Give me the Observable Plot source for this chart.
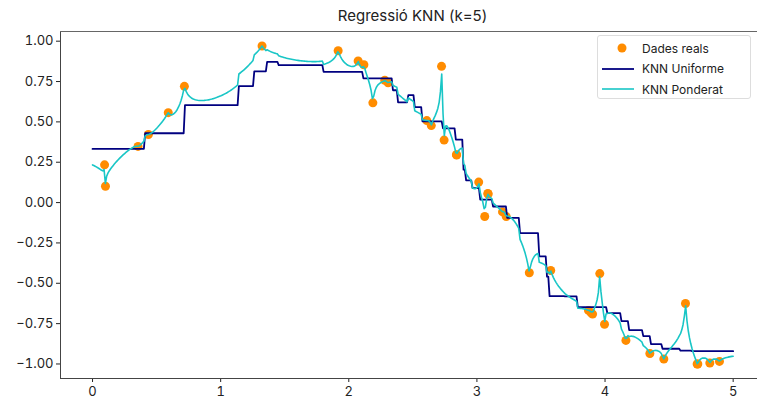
<!DOCTYPE html>
<html>
<head>
<meta charset="utf-8">
<script src="https://cdn.jsdelivr.net/npm/d3@7"></script>
<script src="https://cdn.jsdelivr.net/npm/@observablehq/plot@0.6"></script>
<style>
  html, body { margin: 0; padding: 0; background: #fff; overflow: hidden; }
  #wrap { position: relative; width: 757px; height: 403px; font-family: Inter, "Open Sans", sans-serif; color: #222; }
  #title { position: absolute; top: 6px; left: 60px; width: 705px; text-align: center; font-size: 15px; }
  #legend { position: absolute; left: 597px; top: 35px; width: 154px; height: 64px; background: rgba(255,255,255,0.85);
            border: 1px solid #ddd; border-radius: 3px; box-sizing: border-box; font-size: 12px; }
  .row { position: absolute; left: 0; height: 20px; display: flex; align-items: center; }
  .row svg { width: 44px; height: 20px; }
</style>
</head>
<body>
<div id="wrap">
  <div id="title">Regressió KNN (k=5)</div>
  <div id="chart"></div>
  <div id="legend"></div>
</div>
<script>
const dataX = [0.094, 0.101, 0.355, 0.436, 0.591, 0.717, 1.323, 1.917, 2.073, 2.118,
               2.188, 2.281, 2.307, 2.609, 2.644, 2.724, 2.744, 2.840, 2.842, 3.014,
               3.061, 3.085, 3.088, 3.200, 3.229, 3.409, 3.576, 3.871, 3.891, 3.903,
               3.959, 3.996, 4.163, 4.350, 4.459, 4.628, 4.719, 4.724, 4.818, 4.893];
const dataY = [0.234, 0.101, 0.348, 0.422, 0.557, 0.720, 0.970, 0.941, 0.877, 0.854,
               0.618, 0.758, 0.742, 0.508, 0.477, 0.844, 0.387, 0.297, 0.295, 0.127,
               -0.086, 0.056, 0.053, -0.058, -0.087, -0.435, -0.421, -0.668, -0.683, -0.691,
               -0.440, -0.754, -0.854, -0.935, -0.969, -0.625, -1.000, -1.000, -0.994, -0.984];
const K = 5;
const xTicks = [0, 1, 2, 3, 4, 5];
const yTicks = [-1, -0.75, -0.5, -0.25, 0, 0.25, 0.5, 0.75, 1];
const seriesNames = ["Dades reals", "KNN Uniforme", "KNN Ponderat"];
const colors = {points: "#ff8c00", uniform: "#000080", weighted: "#19c6c6"};

const points = dataX.map((x, i) => ({x, y: dataY[i]}));

// KNN regression predictions over a prediction grid (0..5, 500 samples)
const grid = d3.range(500).map(i => 5 * i / 499);
function knn(t) {
  const nb = points.map(p => ({d: Math.abs(p.x - t), y: p.y}))
    .sort((a, b) => a.d - b.d).slice(0, K);
  const uni = d3.mean(nb, n => n.y);
  let w;
  const exact = nb.filter(n => n.d === 0);
  if (exact.length) w = d3.mean(exact, n => n.y);
  else {
    const sw = d3.sum(nb, n => 1 / n.d);
    w = d3.sum(nb, n => n.y / n.d) / sw;
  }
  return {t, uni, w};
}
const pred = grid.map(knn);

const xDom = [-0.25, 5.19];
const yDom = [-1.09, 1.06];

const chart = Plot.plot({
  width: 757, height: 403,
  marginLeft: 60, marginRight: 0, marginTop: 31, marginBottom: 25,
  style: {fontFamily: "Inter, 'Open Sans', sans-serif", fontSize: "13px", color: "#222", background: "white"},
  x: {domain: xDom, ticks: xTicks, tickFormat: d => String(d), tickSize: 4, tickPadding: 4, label: null},
  y: {domain: yDom, ticks: yTicks, tickFormat: d3.format(".2f"), tickSize: 4, tickPadding: 3, label: null},
  marks: [
    Plot.ruleX([xDom[0]], {stroke: "#444", strokeWidth: 1}),
    Plot.ruleY([yDom[0]], {stroke: "#444", strokeWidth: 1}),
    Plot.ruleY([yDom[1]], {stroke: "#666", strokeWidth: 1}),
    Plot.dot(points, {x: "x", y: "y", r: 4.5, fill: colors.points, stroke: "none"}),
    Plot.line(pred, {x: "t", y: "uni", stroke: colors.uniform, strokeWidth: 1.8}),
    Plot.line(pred, {x: "t", y: "w", stroke: colors.weighted, strokeWidth: 1.6})
  ]
});
document.getElementById("chart").appendChild(chart);

// Legend
const lg = document.getElementById("legend");
const swatches = [
  `<svg><circle cx="24" cy="10" r="4.5" fill="${colors.points}"/></svg>`,
  `<svg><line x1="4" x2="36" y1="10" y2="10" stroke="${colors.uniform}" stroke-width="1.8"/></svg>`,
  `<svg><line x1="4" x2="36" y1="10" y2="10" stroke="${colors.weighted}" stroke-width="1.6"/></svg>`
];
seriesNames.forEach((name, i) => {
  const row = document.createElement("div");
  row.className = "row";
  row.style.top = (2 + i * 20.5) + "px";
  row.innerHTML = swatches[i] + `<span>${name}</span>`;
  lg.appendChild(row);
});
</script>
</body>
</html>
